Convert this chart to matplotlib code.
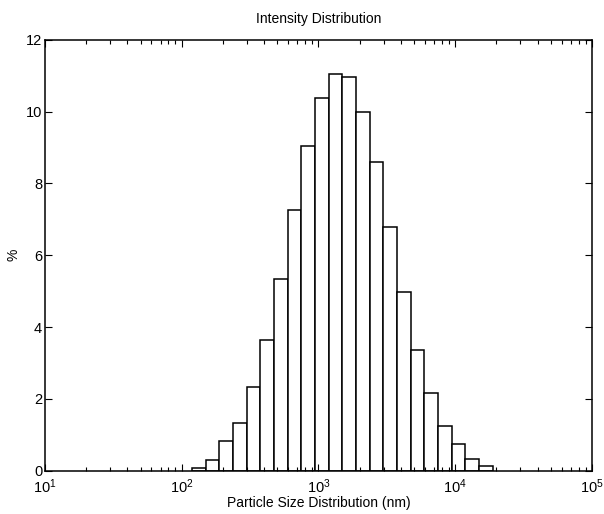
import numpy as np
import matplotlib.pyplot as plt
from matplotlib.ticker import LogLocator, FixedLocator

plt.rcParams['font.family'] = ['Liberation Sans', 'DejaVu Sans']

# log10 des bornes de classes (pas de 0.1 décade) et intensités en %
log_start = 2.075
log_step = 0.1
intensity = [0.08, 0.30, 0.82, 1.33, 2.33, 3.63, 5.35, 7.25, 9.05, 10.37, 11.06,
             10.97, 10.00, 8.60, 6.80, 4.98, 3.37, 2.15, 1.25, 0.75, 0.33, 0.12]

edges = 10 ** (log_start + log_step * np.arange(len(intensity) + 1))
left = edges[:-1]
widths = np.diff(edges)

fig = plt.figure(figsize=(6.04, 5.14), dpi=100)
ax = fig.add_axes([0.0745, 0.0846, 0.9055, 0.8376])

ax.bar(left, intensity, width=widths, align='edge',
       facecolor='white', edgecolor='black', linewidth=1.1)

ax.set_xscale('log')
ax.set_xlim(1e1, 1e5)
ax.set_ylim(0, 12)
ax.yaxis.set_major_locator(FixedLocator([0, 2, 4, 6, 8, 10, 12]))
ax.xaxis.set_major_locator(LogLocator(base=10))
ax.xaxis.set_minor_locator(LogLocator(base=10, subs=np.arange(2, 10)))

ax.tick_params(which='both', direction='in', top=True, right=True,
               labelsize=10.5, colors='black')
ax.tick_params(which='major', length=5, width=0.8)
ax.tick_params(which='minor', length=3, width=0.8)
ax.tick_params(axis='x', which='major', pad=5)
ax.tick_params(axis='y', which='major', pad=2)
for s in ax.spines.values():
    s.set_linewidth(1.1)

ax.set_title('Intensity Distribution', fontsize=10, pad=12)
ax.set_xlabel('Particle Size Distribution (nm)', fontsize=10, labelpad=0)
ax.set_ylabel('%', fontsize=10)
ax.yaxis.set_label_coords(-0.045, 0.5)

fig.savefig('out.png', dpi=100)
